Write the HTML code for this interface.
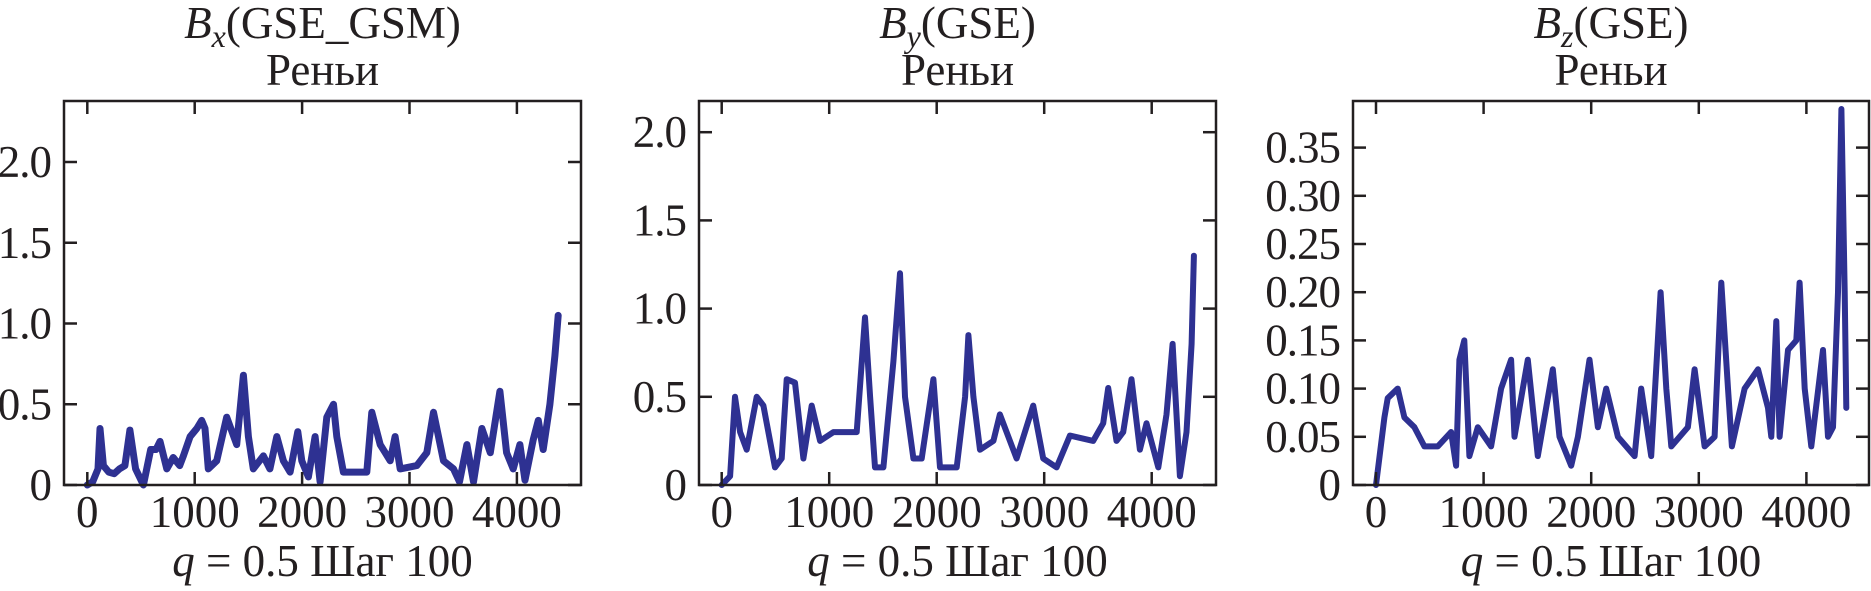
<!DOCTYPE html>
<html><head><meta charset="utf-8">
<style>
html,body{margin:0;padding:0;background:#fff;}
svg{display:block;}
text{font-family:"Liberation Serif",serif;fill:#231f20;}
</style></head>
<body>
<svg id="fig" width="1871" height="591" viewBox="0 0 1871 591" xmlns="http://www.w3.org/2000/svg"></svg>
<script>
// Panel 1: Bx(GSE_GSM)
const p1X = [0,50,100,118,150,200,250,300,350,397,450,522,590,640,677,740,800,860,895,957,1020,1065,1096,1127,1205,1298,1391,1453,1500,1546,1640,1700,1764,1826,1888,1960,1997,2059,2121,2168,2230,2292,2323,2385,2602,2649,2727,2820,2866,2913,3068,3161,3223,3317,3410,3466,3534,3596,3674,3752,3842,3904,3966,4028,4075,4152,4199,4245,4307,4354,4385];
const p1Y = [0,0.02,0.1,0.35,0.12,0.08,0.07,0.1,0.12,0.34,0.1,0.0,0.22,0.22,0.27,0.1,0.17,0.12,0.18,0.3,0.35,0.4,0.35,0.1,0.15,0.42,0.25,0.68,0.3,0.1,0.18,0.1,0.3,0.15,0.08,0.33,0.15,0.05,0.3,0.02,0.42,0.5,0.3,0.08,0.08,0.45,0.25,0.15,0.3,0.1,0.12,0.2,0.45,0.15,0.1,0.02,0.25,0.02,0.35,0.2,0.58,0.2,0.1,0.25,0.03,0.28,0.4,0.22,0.5,0.8,1.05];
const p1Ticks = ["0","0.5","1.0","1.5","2.0"];
const p1TickVals = [0,0.5,1.0,1.5,2.0];
// Panel 2: By(GSE)
const p2X = [0,78,124,171,233,326,388,496,558,605,682,760,837,915,1039,1163,1256,1333,1380,1426,1504,1597,1659,1705,1783,1860,1969,2031,2186,2264,2295,2341,2403,2527,2588,2743,2898,2991,3115,3239,3456,3549,3595,3673,3735,3812,3890,3952,4061,4138,4194,4231,4262,4324,4371,4393];
const p2Y = [0,0.05,0.5,0.3,0.2,0.5,0.45,0.1,0.15,0.6,0.58,0.15,0.45,0.25,0.3,0.3,0.3,0.95,0.5,0.1,0.1,0.7,1.2,0.5,0.15,0.15,0.6,0.1,0.1,0.5,0.85,0.5,0.2,0.25,0.4,0.15,0.45,0.15,0.1,0.28,0.25,0.35,0.55,0.25,0.3,0.6,0.2,0.35,0.1,0.4,0.8,0.4,0.05,0.3,0.8,1.3];
const p2Ticks = ["0","0.5","1.0","1.5","2.0"];
const p2TickVals = [0,0.5,1.0,1.5,2.0];
// Panel 3: Bz(GSE)
const p3X = [0,78,109,202,264,357,450,574,698,744,775,821,868,946,1070,1163,1256,1287,1411,1504,1643,1705,1814,1876,1984,2062,2139,2248,2403,2465,2558,2645,2698,2744,2899,2961,3054,3147,3209,3271,3308,3426,3550,3643,3674,3720,3751,3829,3906,3937,3984,4046,4154,4201,4247,4294,4325,4356,4371];
const p3Y = [0,0.07,0.09,0.1,0.07,0.06,0.04,0.04,0.055,0.02,0.13,0.15,0.03,0.06,0.04,0.1,0.13,0.05,0.13,0.03,0.12,0.05,0.02,0.05,0.13,0.06,0.1,0.05,0.03,0.1,0.03,0.2,0.1,0.04,0.06,0.12,0.04,0.05,0.21,0.1,0.04,0.1,0.12,0.08,0.05,0.17,0.05,0.14,0.15,0.21,0.1,0.04,0.14,0.05,0.06,0.2,0.39,0.2,0.08];
const p3Ticks = ["0","0.05","0.10","0.15","0.20","0.25","0.30","0.35"];
const p3TickVals = [0,0.05,0.10,0.15,0.20,0.25,0.30,0.35];
const xTicks = ["0","1000","2000","3000","4000"];
const xTickVals = [0,1000,2000,3000,4000];

const NS = "http://www.w3.org/2000/svg";
const svg = document.getElementById('fig');
function mk(tag, attrs, parent){const e=document.createElementNS(NS,tag);for(const k in attrs)e.setAttribute(k,attrs[k]);(parent||svg).appendChild(e);return e;}

const panels = [
 {name:'bx', left:64, right:581, x0:87.3, xs:0.1074, y0:485, yPerUnit:161.5, xs_:p1X, ys:p1Y, tl:p1Ticks, tv:p1TickVals, sub:'x', comp:'(GSE_GSM)', sw:7},
 {name:'by', left:699, right:1216, x0:721.7, xs:0.1075, y0:485, yPerUnit:176.4, xs_:p2X, ys:p2Y, tl:p2Ticks, tv:p2TickVals, sub:'y', comp:'(GSE)', sw:6},
 {name:'bz', left:1353, right:1869, x0:1376, xs:0.1076, y0:485, yPerUnit:964, xs_:p3X, ys:p3Y, tl:p3Ticks, tv:p3TickVals, sub:'z', comp:'(GSE)', sw:6}
];
const TOP = 101, BOT = 485;
const FS = 45;

panels.forEach(p=>{
  const g = mk('g',{});
  
  
  const sx = v => p.x0 + v*p.xs;
  const sy = v => p.y0 - v*p.yPerUnit;
  const cx = (p.left+p.right)/2;
  const t1 = mk('text',{x:cx,y:38,'text-anchor':'middle','font-size':FS},g);
  
  
  const b = mk('tspan',{'font-style':'italic'},t1); b.textContent='B';
  const s = mk('tspan',{'font-style':'italic','font-size':32,dy:9},t1); s.textContent=p.sub;
  const c = mk('tspan',{dy:-9},t1); c.textContent=p.comp;
  const t2 = mk('text',{x:cx,y:85,'text-anchor':'middle','font-size':FS},g);
  
  
  t2.textContent='Реньи';
  let d='';
  p.xs_.forEach((xv,i)=>{d+=(i?'L':'M')+sx(xv).toFixed(1)+' '+sy(p.ys[i]).toFixed(1);});
  const path = mk('path',{d:d,fill:'none',stroke:'#2e3192','stroke-width':p.sw,'stroke-linejoin':'round','stroke-linecap':'round'},g);
  
  
  const fr = mk('rect',{x:p.left,y:TOP,width:p.right-p.left,height:BOT-TOP,fill:'none',stroke:'#231f20','stroke-width':2.5},g);
  
  
  p.tv.forEach((v,i)=>{
    const y = sy(v);
    mk('line',{x1:p.left,x2:p.left+13,y1:y,y2:y,stroke:'#231f20','stroke-width':2.5},g);
    mk('line',{x1:p.right,x2:p.right-13,y1:y,y2:y,stroke:'#231f20','stroke-width':2.5},g);
    const tl = mk('text',{x:p.left-13,y:y+15,'text-anchor':'end','font-size':FS,'letter-spacing':-1},g);
    
    
    tl.textContent = p.tl[i];
  });
  xTickVals.forEach((v,i)=>{
    const x = sx(v);
    mk('line',{x1:x,x2:x,y1:TOP,y2:TOP+13,stroke:'#231f20','stroke-width':2.5},g);
    mk('line',{x1:x,x2:x,y1:BOT,y2:BOT-13,stroke:'#231f20','stroke-width':2.5},g);
    const tl = mk('text',{x:x,y:527,'text-anchor':'middle','font-size':FS},g);
    
    
    tl.textContent = xTicks[i];
  });
  const xl = mk('text',{x:cx,y:576,'text-anchor':'middle','font-size':FS},g);
  
  
  const q = mk('tspan',{'font-style':'italic'},xl); q.textContent='q';
  const r = mk('tspan',{},xl); r.textContent=' = 0.5 Шаг 100';
});
</script>
</body></html>
